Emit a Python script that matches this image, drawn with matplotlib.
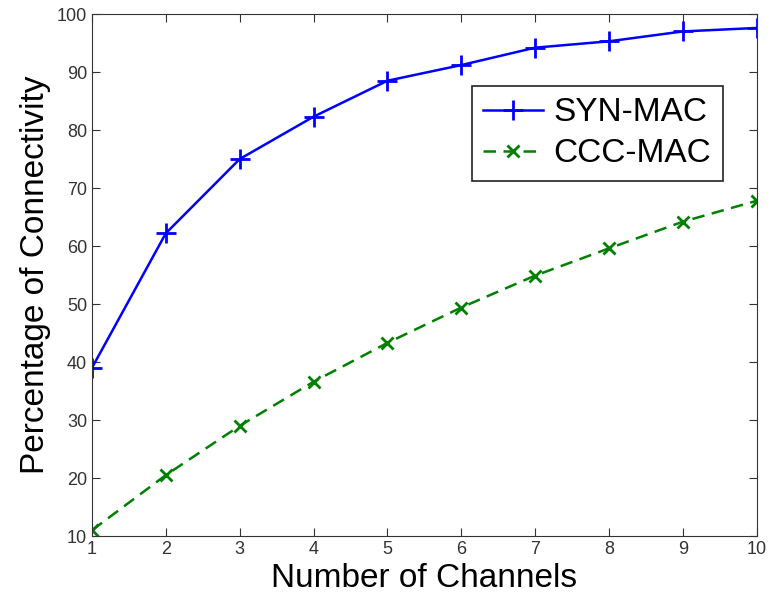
import matplotlib
matplotlib.use('Agg')
import matplotlib.pyplot as plt

plt.rcParams['font.family'] = ['Liberation Sans', 'DejaVu Sans']

channels = [1, 2, 3, 4, 5, 6, 7, 8, 9, 10]
syn_mac = [39.0, 62.2, 75.0, 82.3, 88.5, 91.2, 94.2, 95.3, 97.0, 97.6]
ccc_mac = [11.0, 20.5, 29.0, 36.6, 43.3, 49.4, 54.9, 59.6, 64.2, 67.8]

fig = plt.figure(figsize=(7.69, 6.02), dpi=100)
ax = fig.add_axes([0.1196, 0.1096, 0.8645, 0.8671])

ax.plot(channels, syn_mac, color='#0000ff', linestyle='-', marker='+',
        markersize=14, markeredgewidth=2, linewidth=1.8, label='SYN-MAC')
ax.plot(channels, ccc_mac, color='#008000', linestyle='--', marker='x',
        markersize=8, markeredgewidth=2, linewidth=1.8, dashes=(5, 3), label='CCC-MAC')

ax.set_xlim(1, 10)
ax.set_ylim(10, 100)
ax.set_xticks(channels)
ax.set_yticks(range(10, 101, 10))
ax.tick_params(direction='in', length=6, labelsize=13, top=True, right=True,
               colors='#333333', labelcolor='#333333')
for s in ax.spines.values():
    s.set_color('#333333')

ax.set_xlabel('Number of Channels', fontsize=24, labelpad=4)
ax.set_ylabel('Percentage of Connectivity', fontsize=24, labelpad=4)

leg = ax.legend(loc='upper left', bbox_to_anchor=(0.571, 0.863), fontsize=24,
                fancybox=False, framealpha=1, edgecolor='#222222',
                handlelength=1.8, borderpad=0.35, labelspacing=0.3,
                handletextpad=0.3, borderaxespad=0)
leg.get_frame().set_linewidth(1.2)

fig.savefig('out.png', dpi=100)
